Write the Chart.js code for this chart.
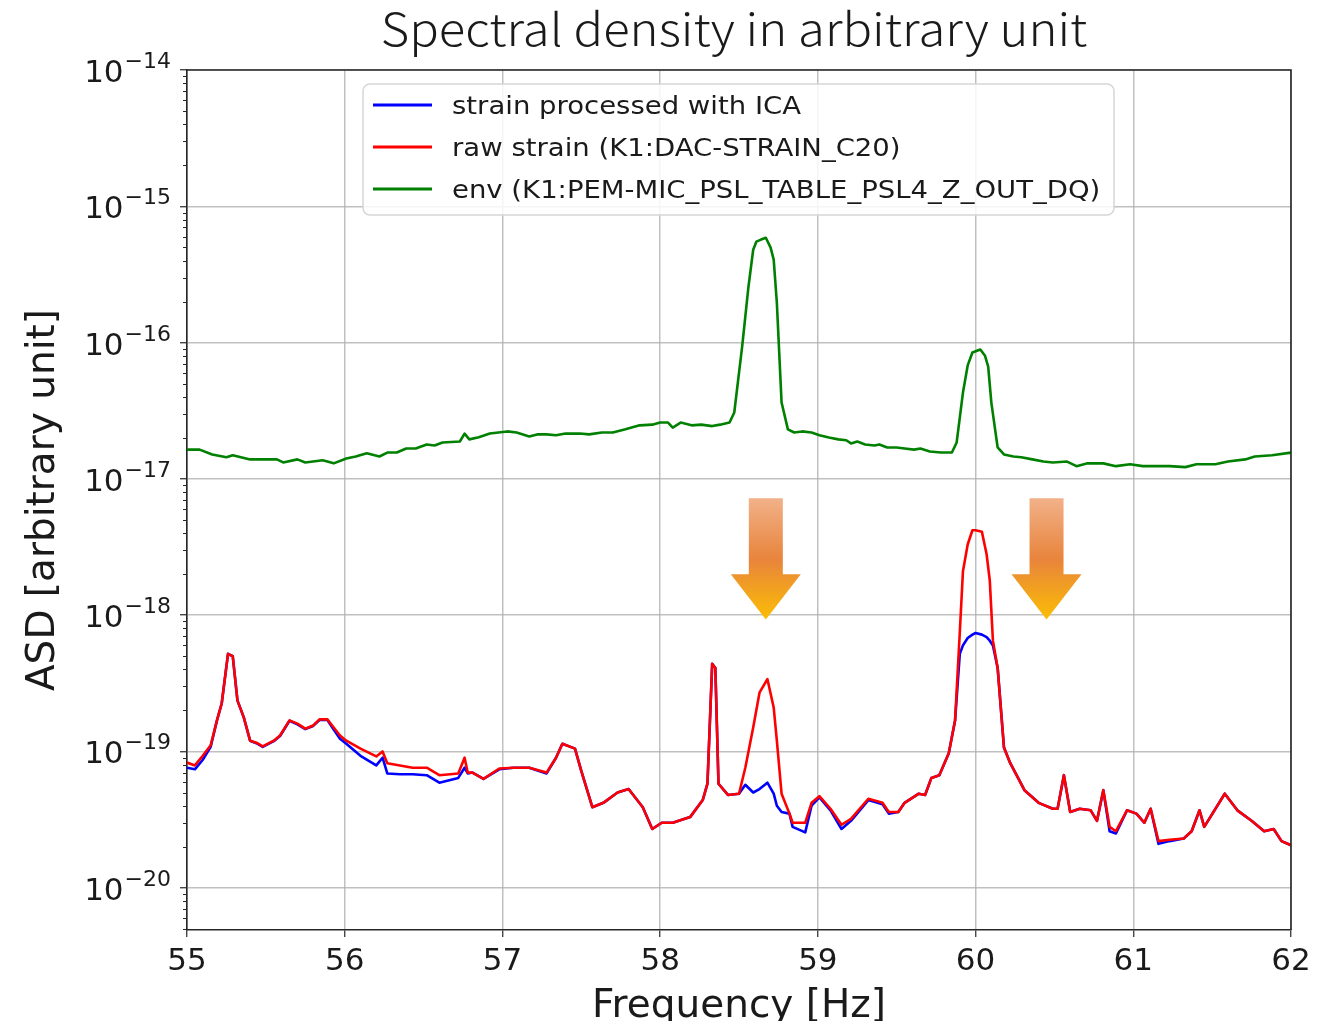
<!DOCTYPE html>
<html lang="en">
<head>
<meta charset="UTF-8">
<title>Spectral density in arbitrary unit</title>
<script src="https://cdn.jsdelivr.net/npm/chart.js"></script>
<style>
  body { margin: 0; background: #fff; }
  canvas { display: block; }
</style>
</head>
<body>
<canvas id="asdChart" width="1330" height="1021"></canvas>
<script>
// strain curves [Hz]
const strainFreq = [
  55.00, 55.05, 55.10, 55.15, 55.19, 55.22, 55.26, 55.29, 55.32, 55.36,
  55.40, 55.44, 55.48, 55.55, 55.59, 55.65, 55.70, 55.75, 55.80, 55.84,
  55.89, 55.93, 55.97, 56.01, 56.10, 56.20, 56.24, 56.27, 56.35, 56.43,
  56.52, 56.60, 56.72, 56.76, 56.78, 56.81, 56.88, 56.98, 57.07, 57.17,
  57.28, 57.34, 57.38, 57.46, 57.50, 57.57, 57.64, 57.73, 57.80, 57.89,
  57.95, 58.01, 58.08, 58.19, 58.27, 58.30, 58.33, 58.35, 58.37, 58.43,
  58.50, 58.54, 58.59, 58.63, 58.68, 58.72, 58.74, 58.77, 58.82, 58.84,
  58.92, 58.96, 59.01, 59.08, 59.15, 59.21, 59.32, 59.41, 59.45, 59.51,
  59.55, 59.64, 59.68, 59.72, 59.77, 59.83, 59.87, 59.90, 59.92, 59.95,
  59.98, 60.00, 60.04, 60.07, 60.09, 60.11, 60.14, 60.18, 60.22, 60.31,
  60.40, 60.49, 60.52, 60.56, 60.60, 60.66, 60.73, 60.77, 60.81, 60.85,
  60.89, 60.96, 61.02, 61.07, 61.11, 61.16, 61.23, 61.32, 61.37, 61.42,
  61.45, 61.58, 61.66, 61.75, 61.83, 61.89, 61.94, 62.00
];
const icaStrain = [
  7.6e-20, 7.4e-20, 8.7e-20, 1.08e-19, 1.69e-19, 2.25e-19, 5.2e-19, 5.0e-19, 2.36e-19, 1.78e-19,
  1.20e-19, 1.15e-19, 1.08e-19, 1.19e-19, 1.30e-19, 1.68e-19, 1.58e-19, 1.46e-19, 1.54e-19, 1.70e-19,
  1.70e-19, 1.45e-19, 1.24e-19, 1.14e-19, 9.3e-20, 7.9e-20, 9.0e-20, 6.9e-20, 6.8e-20, 6.8e-20,
  6.7e-20, 5.9e-20, 6.4e-20, 7.6e-20, 6.9e-20, 7.0e-20, 6.3e-20, 7.4e-20, 7.6e-20, 7.6e-20,
  6.9e-20, 9.0e-20, 1.14e-19, 1.05e-19, 7.2e-20, 3.9e-20, 4.2e-20, 5.0e-20, 5.3e-20, 3.9e-20,
  2.7e-20, 3.0e-20, 3.0e-20, 3.3e-20, 4.4e-20, 5.8e-20, 4.4e-19, 4.1e-19, 5.8e-20, 4.8e-20,
  4.9e-20, 5.7e-20, 5.0e-20, 5.3e-20, 5.9e-20, 4.9e-20, 4.0e-20, 3.6e-20, 3.5e-20, 2.8e-20,
  2.55e-20, 4.0e-20, 4.6e-20, 3.7e-20, 2.7e-20, 3.1e-20, 4.4e-20, 4.1e-20, 3.5e-20, 3.6e-20,
  4.2e-20, 4.9e-20, 4.8e-20, 6.4e-20, 6.7e-20, 9.7e-20, 1.69e-19, 5.2e-19, 6.0e-19, 6.8e-19,
  7.2e-19, 7.4e-19, 7.2e-19, 6.9e-19, 6.5e-19, 6.0e-19, 4.1e-19, 1.07e-19, 8.2e-20, 5.2e-20,
  4.2e-20, 3.8e-20, 3.8e-20, 6.7e-20, 3.6e-20, 3.8e-20, 3.7e-20, 3.1e-20, 5.2e-20, 2.6e-20,
  2.5e-20, 3.7e-20, 3.5e-20, 3.0e-20, 3.8e-20, 2.1e-20, 2.2e-20, 2.3e-20, 2.6e-20, 3.7e-20,
  2.8e-20, 4.9e-20, 3.7e-20, 3.1e-20, 2.6e-20, 2.7e-20, 2.2e-20, 2.05e-20
];
const rawStrain = [
  8.3e-20, 7.9e-20, 9.3e-20, 1.11e-19, 1.69e-19, 2.25e-19, 5.2e-19, 5.0e-19, 2.36e-19, 1.78e-19,
  1.20e-19, 1.16e-19, 1.09e-19, 1.20e-19, 1.31e-19, 1.69e-19, 1.60e-19, 1.47e-19, 1.55e-19, 1.72e-19,
  1.72e-19, 1.50e-19, 1.31e-19, 1.20e-19, 1.05e-19, 9.2e-20, 1.0e-19, 8.2e-20, 7.9e-20, 7.6e-20,
  7.6e-20, 6.7e-20, 6.9e-20, 9.0e-20, 7.0e-20, 7.0e-20, 6.3e-20, 7.5e-20, 7.6e-20, 7.6e-20,
  7.0e-20, 9.0e-20, 1.14e-19, 1.05e-19, 7.2e-20, 3.9e-20, 4.2e-20, 5.0e-20, 5.3e-20, 3.9e-20,
  2.7e-20, 3.0e-20, 3.0e-20, 3.3e-20, 4.4e-20, 5.8e-20, 4.4e-19, 4.1e-19, 5.8e-20, 4.8e-20,
  4.9e-20, 7.6e-20, 1.50e-19, 2.7e-19, 3.4e-19, 2.1e-19, 1.2e-19, 4.9e-20, 3.5e-20, 3.0e-20,
  3.0e-20, 4.2e-20, 4.7e-20, 3.8e-20, 2.9e-20, 3.2e-20, 4.5e-20, 4.2e-20, 3.6e-20, 3.6e-20,
  4.2e-20, 4.9e-20, 4.8e-20, 6.4e-20, 6.7e-20, 9.7e-20, 1.69e-19, 7.5e-19, 2.1e-18, 3.3e-18,
  4.2e-18, 4.2e-18, 4.1e-18, 2.8e-18, 1.8e-18, 6.5e-19, 4.1e-19, 1.07e-19, 8.2e-20, 5.2e-20,
  4.2e-20, 3.8e-20, 3.8e-20, 6.7e-20, 3.6e-20, 3.8e-20, 3.7e-20, 3.1e-20, 5.2e-20, 2.8e-20,
  2.6e-20, 3.7e-20, 3.5e-20, 3.0e-20, 3.8e-20, 2.2e-20, 2.25e-20, 2.3e-20, 2.6e-20, 3.7e-20,
  2.8e-20, 4.9e-20, 3.7e-20, 3.1e-20, 2.6e-20, 2.7e-20, 2.2e-20, 2.05e-20
];

// microphone channel
const envFreq = [
  55.00, 55.08, 55.16, 55.25, 55.29, 55.40, 55.57, 55.61, 55.70, 55.75,
  55.86, 55.89, 55.93, 56.01, 56.07, 56.14, 56.22, 56.27, 56.33, 56.39,
  56.45, 56.52, 56.57, 56.62, 56.73, 56.76, 56.79, 56.85, 56.92, 57.03,
  57.09, 57.17, 57.22, 57.28, 57.34, 57.40, 57.49, 57.55, 57.63, 57.70,
  57.78, 57.87, 57.95, 58.00, 58.05, 58.08, 58.13, 58.20, 58.26, 58.33,
  58.38, 58.44, 58.47, 58.50, 58.52, 58.56, 58.59, 58.61, 58.64, 58.67,
  58.70, 58.72, 58.74, 58.77, 58.81, 58.85, 58.90, 58.96, 59.01, 59.07,
  59.13, 59.18, 59.21, 59.25, 59.30, 59.36, 59.39, 59.44, 59.50, 59.55,
  59.61, 59.65, 59.71, 59.78, 59.85, 59.88, 59.92, 59.95, 59.98, 60.03,
  60.06, 60.08, 60.10, 60.14, 60.18, 60.24, 60.29, 60.36, 60.43, 60.49,
  60.58, 60.64, 60.71, 60.81, 60.89, 60.98, 61.06, 61.15, 61.23, 61.33,
  61.40, 61.52, 61.60, 61.71, 61.77, 61.88, 62.00
];
const envMic = [
  1.64e-17, 1.64e-17, 1.51e-17, 1.44e-17, 1.49e-17, 1.39e-17, 1.39e-17, 1.32e-17, 1.39e-17, 1.32e-17,
  1.37e-17, 1.34e-17, 1.30e-17, 1.41e-17, 1.46e-17, 1.54e-17, 1.46e-17, 1.56e-17, 1.56e-17, 1.67e-17,
  1.67e-17, 1.79e-17, 1.76e-17, 1.85e-17, 1.88e-17, 2.15e-17, 1.95e-17, 2.02e-17, 2.15e-17, 2.23e-17,
  2.19e-17, 2.05e-17, 2.12e-17, 2.12e-17, 2.09e-17, 2.15e-17, 2.15e-17, 2.12e-17, 2.19e-17, 2.19e-17,
  2.31e-17, 2.47e-17, 2.50e-17, 2.59e-17, 2.59e-17, 2.38e-17, 2.59e-17, 2.47e-17, 2.50e-17, 2.44e-17,
  2.50e-17, 2.59e-17, 3.07e-17, 6.0e-17, 9.35e-17, 2.57e-16, 4.8e-16, 5.50e-16, 5.7e-16, 5.88e-16,
  5.0e-16, 4.06e-16, 1.96e-16, 3.63e-17, 2.31e-17, 2.19e-17, 2.23e-17, 2.19e-17, 2.09e-17, 2.01e-17,
  1.95e-17, 1.92e-17, 1.82e-17, 1.88e-17, 1.79e-17, 1.76e-17, 1.79e-17, 1.70e-17, 1.70e-17, 1.67e-17,
  1.64e-17, 1.67e-17, 1.59e-17, 1.56e-17, 1.56e-17, 1.85e-17, 4.30e-17, 6.8e-17, 8.45e-17, 8.89e-17,
  8.0e-17, 6.67e-17, 3.63e-17, 1.70e-17, 1.51e-17, 1.46e-17, 1.44e-17, 1.39e-17, 1.34e-17, 1.32e-17,
  1.34e-17, 1.24e-17, 1.30e-17, 1.30e-17, 1.24e-17, 1.28e-17, 1.24e-17, 1.24e-17, 1.24e-17, 1.22e-17,
  1.28e-17, 1.28e-17, 1.34e-17, 1.39e-17, 1.46e-17, 1.49e-17, 1.56e-17
];

const seriesLabels = [
  'strain processed with ICA',
  'raw strain (K1:DAC-STRAIN_C20)',
  'env (K1:PEM-MIC_PSL_TABLE_PSL4_Z_OUT_DQ)'
];
const xTicks = [55, 56, 57, 58, 59, 60, 61, 62];
const yDecades = [-20, -19, -18, -17, -16, -15, -14];

// down arrows marking the removed lines (frequency, then shaft top / head start / tip)
const arrowFreqs = [58.67, 60.45];
const arrowLevels = [7.2e-18, 2.0e-18, 9.3e-19];

const toPoints = (xs, ys) => xs.map((x, i) => ({ x, y: ys[i] }));

const AXIS_COLOR = '#262626';
const GRID_COLOR = 'rgba(176,176,176,0.8)';

// text and decorations that chart.js can't do by itself
const decorations = {
  id: 'decorations',
  afterDatasetsDraw(chart) {
    const { ctx, chartArea: a, scales: { x, y } } = chart;

    // arrows
    arrowFreqs.forEach(f => {
      const cx = x.getPixelForValue(f);
      const top = y.getPixelForValue(arrowLevels[0]);
      const neck = y.getPixelForValue(arrowLevels[1]);
      const tip = y.getPixelForValue(arrowLevels[2]);
      const g = ctx.createLinearGradient(0, top, 0, tip);
      g.addColorStop(0, '#f2b189');
      g.addColorStop(0.5, '#e8843c');
      g.addColorStop(1, '#fbbd04');
      ctx.save();
      ctx.fillStyle = g;
      ctx.beginPath();
      ctx.moveTo(cx - 17, top);
      ctx.lineTo(cx + 17, top);
      ctx.lineTo(cx + 17, neck);
      ctx.lineTo(cx + 35, neck);
      ctx.lineTo(cx, tip);
      ctx.lineTo(cx - 35, neck);
      ctx.lineTo(cx - 17, neck);
      ctx.closePath();
      ctx.fill();
      ctx.restore();
    });

    // top and right spines
    ctx.save();
    ctx.strokeStyle = AXIS_COLOR;
    ctx.lineWidth = 1.6;
    ctx.beginPath();
    ctx.moveTo(a.left, a.top);
    ctx.lineTo(a.right, a.top);
    ctx.lineTo(a.right, a.bottom);
    ctx.stroke();

    // minor ticks on the log axis
    ctx.lineWidth = 1;
    ctx.beginPath();
    for (let e = -21; e <= -15; e++) {
      for (let k = 2; k <= 9; k++) {
        const v = k * Math.pow(10, e);
        if (v < y.min || v > y.max) continue;
        const py = Math.round(y.getPixelForValue(v)) + 0.5;
        ctx.moveTo(a.left - 4, py);
        ctx.lineTo(a.left, py);
      }
    }
    ctx.stroke();

    // y tick labels 10^n
    ctx.fillStyle = '#1a1a1a';
    ctx.textAlign = 'right';
    ctx.textBaseline = 'alphabetic';
    yDecades.forEach(e => {
      const py = y.getPixelForValue(Math.pow(10, e));
      const exp = '\u2212' + Math.abs(e);
      ctx.font = '22px "DejaVu Sans"';
      const ew = ctx.measureText(exp).width;
      ctx.fillText(exp, a.left - 16, py - 2);
      ctx.font = '31px "DejaVu Sans"';
      ctx.fillText('10', a.left - 17 - ew, py + 12);
    });

    // axis titles and chart title
    ctx.textAlign = 'center';
    ctx.font = '39px "DejaVu Sans"';
    ctx.fillText('Frequency [Hz]', (a.left + a.right) / 2, 1017);
    ctx.save();
    ctx.translate(54, (a.top + a.bottom) / 2);
    ctx.rotate(-Math.PI / 2);
    ctx.fillText('ASD [arbitrary unit]', 0, 0);
    ctx.restore();
    ctx.save();
    ctx.translate((a.left + a.right) / 2 - 5, 46);
    ctx.scale(1.09, 1);
    ctx.font = '300 45px "Noto Sans CJK JP"';
    ctx.fillText('Spectral density in arbitrary unit', 0, 0);
    ctx.restore();

    // legend box
    const lx = a.left + 176, ly = a.top + 14, lw = 751, lh = 131;
    ctx.beginPath();
    ctx.roundRect(lx, ly, lw, lh, 7);
    ctx.fillStyle = 'rgba(255,255,255,0.85)';
    ctx.fill();
    ctx.strokeStyle = '#d6d6d6';
    ctx.lineWidth = 1.5;
    ctx.stroke();
    [0, 1, 2].forEach((di, row) => {
      const ds = chart.data.datasets[di];
      const ry = ly + 21 + row * 42;
      ctx.strokeStyle = ds.borderColor;
      ctx.lineWidth = 3;
      ctx.beginPath();
      ctx.moveTo(lx + 10, ry);
      ctx.lineTo(lx + 69, ry);
      ctx.stroke();
      ctx.save();
      ctx.translate(lx + 89, ry + 9);
      ctx.scale(1.1, 1);
      ctx.fillStyle = '#1a1a1a';
      ctx.textAlign = 'left';
      ctx.font = '25px "DejaVu Sans"';
      ctx.fillText(ds.label, 0, 0);
      ctx.restore();
    });
    ctx.restore();
  }
};

new Chart(document.getElementById('asdChart'), {
  type: 'line',
  data: {
    datasets: [
      { label: seriesLabels[0], data: toPoints(strainFreq, icaStrain), borderColor: '#0000ff', order: 2 },
      { label: seriesLabels[1], data: toPoints(strainFreq, rawStrain), borderColor: '#ff0000', order: 1 },
      { label: seriesLabels[2], data: toPoints(envFreq, envMic), borderColor: '#008000', order: 3 }
    ]
  },
  options: {
    responsive: false,
    animation: false,
    layout: { padding: { left: 0, top: 70, right: 39, bottom: 0 } },
    elements: {
      point: { radius: 0 },
      line: { borderWidth: 2.6, tension: 0, borderJoinStyle: 'round' }
    },
    plugins: {
      legend: { display: false },
      tooltip: { enabled: false }
    },
    scales: {
      x: {
        type: 'linear',
        min: 55,
        max: 62,
        afterBuildTicks: s => { s.ticks = xTicks.map(v => ({ value: v })); },
        afterFit: s => { s.height = 91; },
        grid: { color: GRID_COLOR, lineWidth: 1.5, tickLength: 7, tickColor: AXIS_COLOR, tickWidth: 1.2 },
        border: { color: AXIS_COLOR, width: 1.6 },
        ticks: { font: { family: 'DejaVu Sans', size: 31 }, color: '#1a1a1a', padding: 6, maxRotation: 0 }
      },
      y: {
        type: 'logarithmic',
        min: 4.9e-21,
        max: 1e-14,
        afterBuildTicks: s => { s.ticks = yDecades.map(e => ({ value: Math.pow(10, e) })); },
        afterFit: s => { s.width = 187; },
        grid: { color: GRID_COLOR, lineWidth: 1.5, tickLength: 7, tickColor: AXIS_COLOR, tickWidth: 1.2 },
        border: { color: AXIS_COLOR, width: 1.6 },
        ticks: { display: false }
      }
    }
  },
  plugins: [decorations]
});
</script>
</body>
</html>
